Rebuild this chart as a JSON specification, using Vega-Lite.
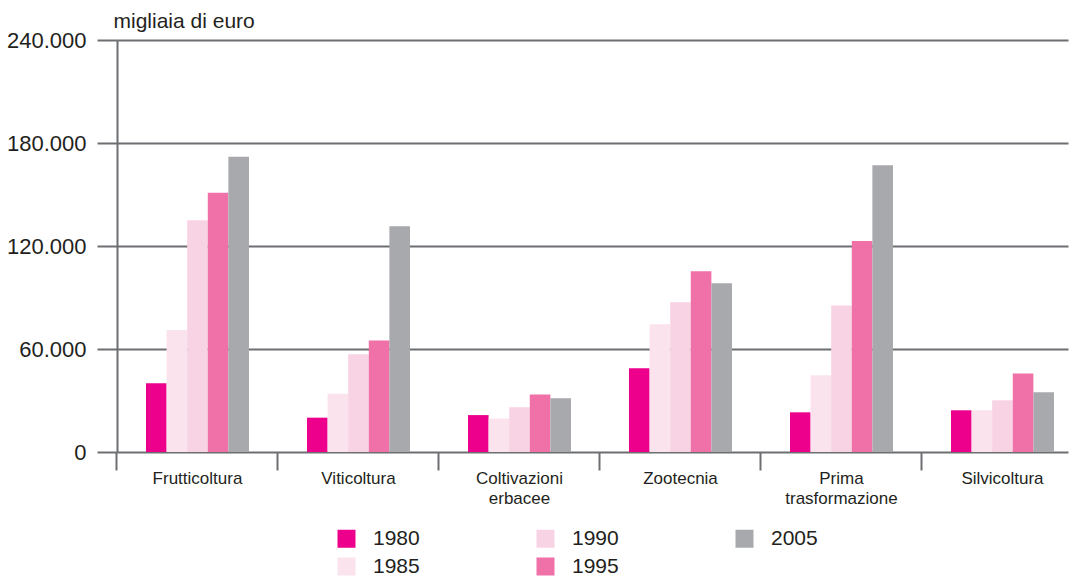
{
  "$schema": "https://vega.github.io/schema/vega-lite/v6.json",
  "width": 951,
  "height": 412,
  "autosize": {"type": "none"},
  "padding": {"left": 117, "top": 40, "right": 9, "bottom": 127},
  "background": "white",
  "config": {"view": {"stroke": null}, "font": "Liberation Sans"},
  "data": {
    "values": [
      {"categoria": "Frutticoltura", "anno": "1980", "valore": 40000},
      {"categoria": "Frutticoltura", "anno": "1985", "valore": 71000},
      {"categoria": "Frutticoltura", "anno": "1990", "valore": 135000},
      {"categoria": "Frutticoltura", "anno": "1995", "valore": 151000},
      {"categoria": "Frutticoltura", "anno": "2005", "valore": 172000},
      {"categoria": "Viticoltura", "anno": "1980", "valore": 20000},
      {"categoria": "Viticoltura", "anno": "1985", "valore": 34000},
      {"categoria": "Viticoltura", "anno": "1990", "valore": 57000},
      {"categoria": "Viticoltura", "anno": "1995", "valore": 65000},
      {"categoria": "Viticoltura", "anno": "2005", "valore": 131500},
      {"categoria": "Coltivazioni erbacee", "anno": "1980", "valore": 21500},
      {"categoria": "Coltivazioni erbacee", "anno": "1985", "valore": 19500},
      {"categoria": "Coltivazioni erbacee", "anno": "1990", "valore": 26000},
      {"categoria": "Coltivazioni erbacee", "anno": "1995", "valore": 33500},
      {"categoria": "Coltivazioni erbacee", "anno": "2005", "valore": 31300},
      {"categoria": "Zootecnia", "anno": "1980", "valore": 48800},
      {"categoria": "Zootecnia", "anno": "1985", "valore": 74400},
      {"categoria": "Zootecnia", "anno": "1990", "valore": 87200},
      {"categoria": "Zootecnia", "anno": "1995", "valore": 105300},
      {"categoria": "Zootecnia", "anno": "2005", "valore": 98300},
      {"categoria": "Prima trasformazione", "anno": "1980", "valore": 23100},
      {"categoria": "Prima trasformazione", "anno": "1985", "valore": 44700},
      {"categoria": "Prima trasformazione", "anno": "1990", "valore": 85400},
      {"categoria": "Prima trasformazione", "anno": "1995", "valore": 122900},
      {"categoria": "Prima trasformazione", "anno": "2005", "valore": 167000},
      {"categoria": "Silvicoltura", "anno": "1980", "valore": 24300},
      {"categoria": "Silvicoltura", "anno": "1985", "valore": 24300},
      {"categoria": "Silvicoltura", "anno": "1990", "valore": 30100},
      {"categoria": "Silvicoltura", "anno": "1995", "valore": 45800},
      {"categoria": "Silvicoltura", "anno": "2005", "valore": 34800}
    ]
  },
  "mark": {"type": "bar"},
  "encoding": {
    "x": {
      "field": "categoria",
      "type": "nominal",
      "sort": ["Frutticoltura", "Viticoltura", "Coltivazioni erbacee", "Zootecnia", "Prima trasformazione", "Silvicoltura"],
      "scale": {"paddingInner": 0.36025, "paddingOuter": 0.1336, "align": 0.674},
      "axis": {
        "title": null,
        "domain": false,
        "grid": false,
        "bandPosition": -0.2816,
        "ticks": true,
        "tickSize": 18,
        "tickWidth": 2,
        "tickColor": "#6d6e71",
        "labelExpr": "split(datum.label, ' ')",
        "labelFontSize": 17,
        "labelColor": "#231f20",
        "labelPadding": 0,
        "labelLineHeight": 20,
        "labelAngle": 0,
        "labelBaseline": "top",
        "labelOverlap": false,
        "labelBound": false
      }
    },
    "xOffset": {
      "field": "anno",
      "type": "nominal",
      "sort": ["1980", "1985", "1990", "1995", "2005"],
      "scale": {"paddingInner": 0, "paddingOuter": 0}
    },
    "y": {
      "field": "valore",
      "type": "quantitative",
      "scale": {"domain": [0, 240000], "nice": false},
      "axis": {
        "values": [0, 60000, 120000, 180000, 240000],
        "labelExpr": "datum.value == 0 ? '0' : format(datum.value / 1000, 'd') + '.000'",
        "title": "migliaia di euro",
        "titleAngle": 0,
        "titleAlign": "left",
        "titleBaseline": "alphabetic",
        "titleX": -4,
        "titleY": -13,
        "titleFontSize": 21,
        "titleFontWeight": "normal",
        "titleColor": "#231f20",
        "grid": true,
        "gridColor": "#6d6e71",
        "gridWidth": 2,
        "gridOpacity": 1,
        "tickSize": 20,
        "tickColor": "#6d6e71",
        "tickWidth": 2,
        "domainColor": "#6d6e71",
        "domainWidth": 2,
        "labelFontSize": 22,
        "labelPadding": 11,
        "labelColor": "#231f20"
      }
    },
    "color": {
      "field": "anno",
      "type": "nominal",
      "scale": {
        "domain": ["1980", "1990", "2005", "1985", "1995"],
        "range": ["#ec008c", "#f8d3e4", "#a7a9ac", "#fbe3ee", "#f070a8"]
      },
      "legend": {
        "title": null,
        "orient": "none",
        "legendX": 219,
        "legendY": 488,
        "direction": "horizontal",
        "columns": 3,
        "symbolType": "square",
        "symbolSize": 324,
        "symbolStrokeWidth": 0,
        "symbolOpacity": 1,
        "labelFontSize": 21,
        "labelOffset": 16,
        "columnPadding": 115,
        "rowPadding": 6,
        "labelColor": "#231f20",
        "padding": 0
      }
    }
  }
}
